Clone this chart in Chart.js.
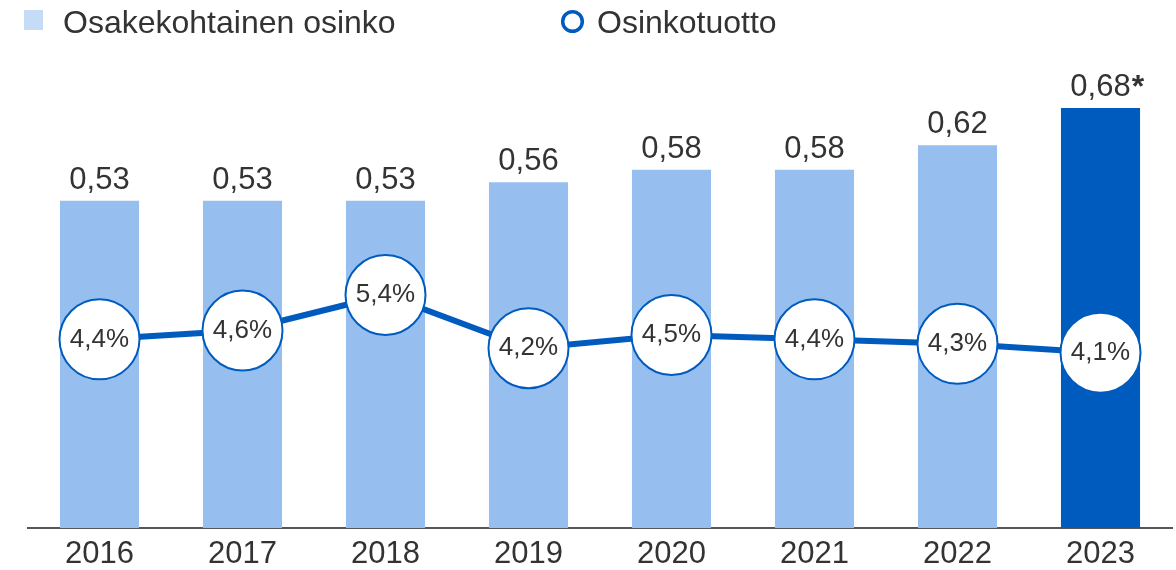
<!DOCTYPE html>
<html>
<head>
<meta charset="utf-8">
<script src="https://cdn.jsdelivr.net/npm/chart.js@4"></script>
<style>
  html, body { margin: 0; padding: 0; background: #fff; }
  #wrap { width: 1176px; height: 570px; }
</style>
</head>
<body>
<div id="wrap"><canvas id="chart" width="1176" height="570"></canvas></div>
<script>
// ---- Data ----
const years = ['2016', '2017', '2018', '2019', '2020', '2021', '2022', '2023'];
const dividend = [0.53, 0.53, 0.53, 0.56, 0.58, 0.58, 0.62, 0.68];
const dividendYield = [4.4, 4.6, 5.4, 4.2, 4.5, 4.4, 4.3, 4.1];
const starredYears = ['2023'];
const legendLabels = ['Osakekohtainen osinko', 'Osinkotuotto'];

const FONT = '"Liberation Sans", Arial, sans-serif';
const TEXT = '#333333';
const LIGHT = '#96bff0';
const DARK = '#005bbf';
const LEGEND_SQ = '#c6dbf5';

const fmt = (v, d) => v.toFixed(d).replace('.', ',');

const barColors = years.map((y) => (starredYears.includes(y) ? DARK : LIGHT));

// ---- Labels + legend plugin ----
const labelPlugin = {
  id: 'labels',
  afterDatasetsDraw(chart) {
    const ctx = chart.ctx;
    ctx.save();

    // bar value labels
    const barMeta = chart.getDatasetMeta(1);
    ctx.fillStyle = TEXT;
    ctx.textAlign = 'center';
    ctx.textBaseline = 'alphabetic';
    barMeta.data.forEach((bar, i) => {
      const txt = fmt(dividend[i], 2);
      ctx.font = '31px ' + FONT;
      ctx.fillText(txt, bar.x, bar.y - 12);
      if (starredYears.includes(years[i])) {
        const w = ctx.measureText(txt).width;
        ctx.font = 'bold 32px ' + FONT;
        ctx.textAlign = 'left';
        ctx.fillText('*', bar.x + w / 2 + 1, bar.y - 11);
        ctx.textAlign = 'center';
      }
    });

    // yield labels in circles
    const lineMeta = chart.getDatasetMeta(0);
    ctx.font = '26px ' + FONT;
    ctx.textBaseline = 'middle';
    lineMeta.data.forEach((pt, i) => {
      ctx.fillText(fmt(dividendYield[i], 1) + '%', pt.x, pt.y);
    });

    // legend
    ctx.textAlign = 'left';
    ctx.textBaseline = 'alphabetic';
    ctx.font = '32px ' + FONT;
    ctx.fillStyle = LEGEND_SQ;
    ctx.fillRect(24, 10, 19, 20);
    ctx.fillStyle = TEXT;
    ctx.fillText(legendLabels[0], 63, 33);

    ctx.beginPath();
    ctx.arc(572.5, 21.5, 9.8, 0, Math.PI * 2);
    ctx.lineWidth = 3.5;
    ctx.strokeStyle = DARK;
    ctx.stroke();
    ctx.fillText(legendLabels[1], 597, 33);

    ctx.restore();
  },
};

new Chart(document.getElementById('chart'), {
  data: {
    labels: years,
    datasets: [
      {
        type: 'line',
        label: legendLabels[1],
        data: dividendYield,
        yAxisID: 'y2',
        order: 0,
        clip: false,
        borderColor: DARK,
        borderWidth: 6,
        tension: 0,
        pointRadius: 40,
        pointHoverRadius: 40,
        pointBackgroundColor: '#ffffff',
        pointBorderColor: DARK,
        pointBorderWidth: 2,
      },
      {
        type: 'bar',
        label: legendLabels[0],
        data: dividend,
        yAxisID: 'y',
        order: 1,
        backgroundColor: barColors,
        categoryPercentage: 1,
        barPercentage: 0.553,
      },
    ],
  },
  options: {
    responsive: false,
    animation: false,
    devicePixelRatio: 1,
    layout: { autoPadding: false, padding: { left: 28, right: 4, top: 34, bottom: 0 } },
    plugins: {
      legend: { display: false },
      tooltip: { enabled: false },
    },
    scales: {
      x: {
        grid: { display: false, drawTicks: false },
        border: { display: true, color: '#555555', width: 2 },
        ticks: { color: TEXT, font: { family: FONT, size: 31 }, padding: 8, maxRotation: 0 },
        afterFit: (scale) => { scale.height = 42; },
      },
      y: { display: false, min: 0, max: 0.8 },
      y2: { display: false, min: 0.15, max: 11.28 },
    },
  },
  plugins: [labelPlugin],
});
</script>
</body>
</html>
